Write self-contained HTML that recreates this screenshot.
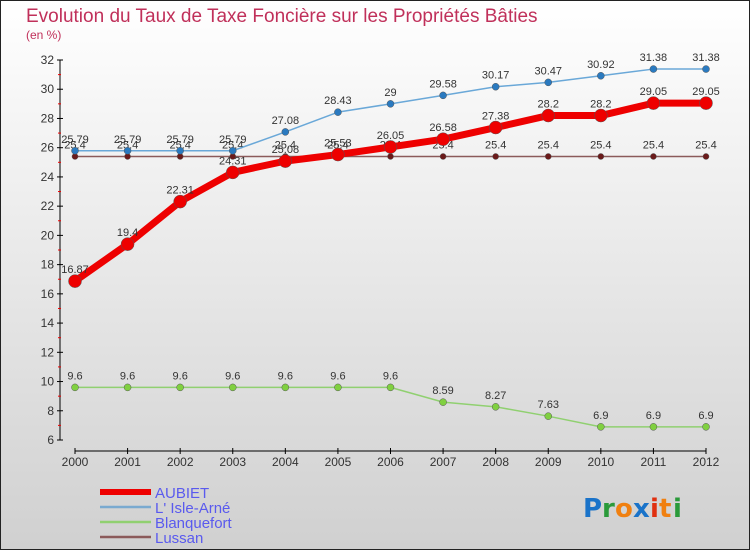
<!DOCTYPE html>
<html><head><meta charset="utf-8"><style>
html,body{margin:0;padding:0;}
body{width:750px;height:550px;overflow:hidden;font-family:"Liberation Sans",sans-serif;}
</style></head><body>
<svg id="chart" width="750" height="550" xmlns="http://www.w3.org/2000/svg" font-family="Liberation Sans, sans-serif">
<defs><linearGradient id="bg" x1="0" y1="0" x2="0" y2="1"><stop offset="0" stop-color="#ffffff"/><stop offset="1" stop-color="#d0d0d0"/></linearGradient></defs>
<rect x="0.5" y="0.5" width="749" height="549" fill="url(#bg)" stroke="#222"/>
<text x="26" y="22" font-size="19" fill="#c0305a">Evolution du Taux de Taxe Foncière sur les Propriétés Bâties</text>
<text x="26" y="39" font-size="12" fill="#c0305a">(en %)</text>
<g id="axes"></g>
<g id="series"></g>
<g id="legend"></g>
<g font-size="26" font-weight="bold" font-family="DejaVu Sans, sans-serif">
<text x="583" y="517" fill="#1a73c9">P</text><text x="602" y="517" fill="#2a9a3a">r</text><text x="615" y="517" fill="#f08010">o</text><text x="633" y="517" fill="#1a73c9">x</text><text x="650" y="517" fill="#e03010">i</text><text x="659" y="517" fill="#f08010">t</text><text x="673" y="517" fill="#2a9a3a">i</text>
</g>
</svg>
<script>
const years=[2000,2001,2002,2003,2004,2005,2006,2007,2008,2009,2010,2011,2012];
const aubiet=[16.87,19.4,22.31,24.31,25.08,25.53,26.05,26.58,27.38,28.2,28.2,29.05,29.05];
const isle=[25.79,25.79,25.79,25.79,27.08,28.43,29,29.58,30.17,30.47,30.92,31.38,31.38];
const blanq=[9.6,9.6,9.6,9.6,9.6,9.6,9.6,8.59,8.27,7.63,6.9,6.9,6.9];
const lussan=[25.4,25.4,25.4,25.4,25.4,25.4,25.4,25.4,25.4,25.4,25.4,25.4,25.4];
const yTicks=[6,8,10,12,14,16,18,20,22,24,26,28,30,32];
const NS="http://www.w3.org/2000/svg";
const x=i=>75+i*(631/12);
const y=v=>440-(v-6)*(380/26);
function mk(p,t,a){const e=document.createElementNS(NS,t);for(const k in a)e.setAttribute(k,a[k]);p.appendChild(e);return e;}
const ax=document.getElementById('axes');
let l=mk(ax,'line',{x1:60,y1:60,x2:60,y2:440,stroke:'#000'});


l=mk(ax,'line',{x1:75,y1:451,x2:706,y2:451,stroke:'#000'});


yTicks.forEach(v=>{
  mk(ax,'line',{x1:57,y1:y(v),x2:63,y2:y(v),stroke:'#000'});
  if(v<32) mk(ax,'line',{x1:58,y1:y(v+1),x2:61,y2:y(v+1),stroke:'#e00'});
  const t=mk(ax,'text',{x:54,y:y(v)+4,'text-anchor':'end','font-size':12,fill:'#333'});
  t.textContent=v;
  
  
});
years.forEach((yr,i)=>{
  mk(ax,'line',{x1:x(i),y1:448,x2:x(i),y2:454,stroke:'#000'});
  const t=mk(ax,'text',{x:x(i),y:466,'text-anchor':'middle','font-size':12,fill:'#333'});
  t.textContent=yr;
  
  
});
const sg=document.getElementById('series');
function series(name,data,color,w,r,dot){
  const g=mk(sg,'g',{});
  
  
  mk(g,'polyline',{points:data.map((v,i)=>x(i)+','+y(v)).join(' '),fill:'none',stroke:color,'stroke-width':w,'stroke-linejoin':'round'});
  data.forEach((v,i)=>{
    const c=mk(g,'circle',{cx:x(i),cy:y(v),r:r,fill:dot,stroke:'#555','stroke-width':0.5});
    
    
    const t=mk(g,'text',{x:x(i),y:y(v)-8,'text-anchor':'middle','font-size':11,fill:'#333'});
    t.textContent=v;
    
    
  });
}
series('lussan',lussan,'#8b5a5a',1.5,3,'#6a1a1a');
series('isle-arne',isle,'#6aa8d8',1.5,3.5,'#2a7ac0');
series('blanquefort',blanq,'#90d070',1.5,3.5,'#80d040');
series('aubiet',aubiet,'#ee0000',7,6.5,'#ee0000');
const lg=document.getElementById('legend');
[['AUBIET','#ee0000',6],["L' Isle-Arné",'#7aaad0',2.5],['Blanquefort','#90d070',2.5],['Lussan','#8b5a5a',2.5]].forEach((d,i)=>{
  const g=mk(lg,'g',{});
  
  
  const yy=492+i*15;
  mk(g,'line',{x1:100,y1:yy,x2:151,y2:yy,stroke:d[1],'stroke-width':d[2]});
  const t=mk(g,'text',{x:155,y:yy+6,'font-size':15,fill:'#5a5aee'});
  t.textContent=d[0];
});
</script>
</body></html>
